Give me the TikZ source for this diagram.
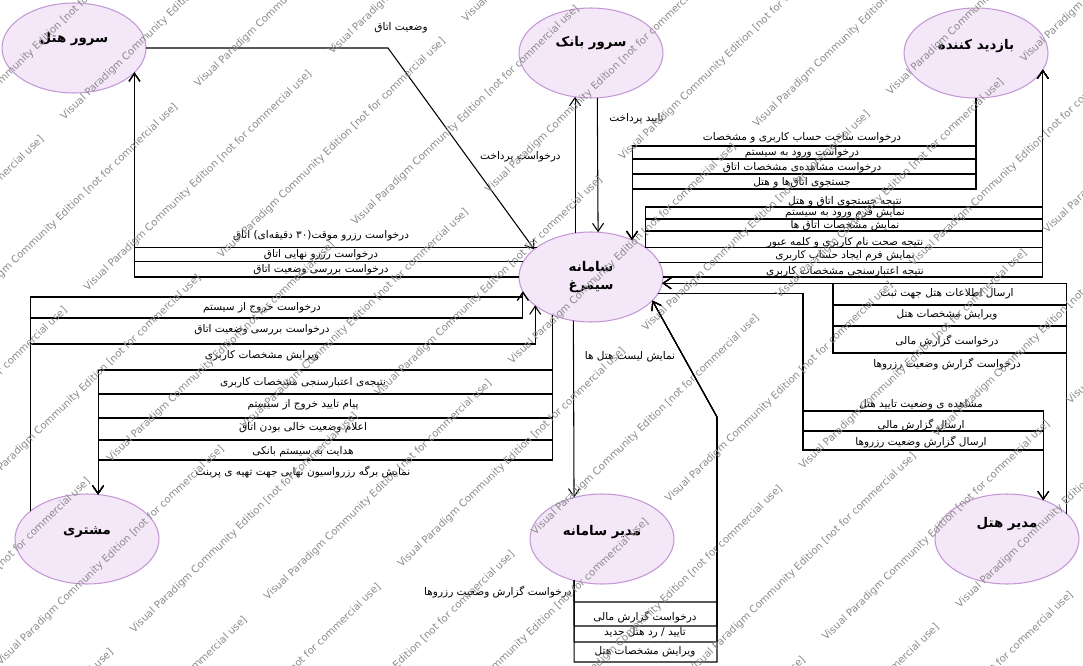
\documentclass[tikz,border=0pt]{standalone}
\usepackage{fontspec}
\setmainfont{DejaVu Sans}
\newfontfamily\persianfont[Script=Arabic]{DejaVu Sans}
\TeXXeTstate=1
\usetikzlibrary{shapes.geometric,arrows.meta}
\definecolor{actorfill}{RGB}{243,231,248}
\definecolor{actorline}{RGB}{196,152,214}
\definecolor{wmgray}{RGB}{140,140,140}
\tikzset{
  actor/.style={ellipse, draw=actorline, fill=actorfill, line width=0.6pt,
    minimum width=2.88cm, minimum height=1.8cm, inner sep=0pt, outer sep=0pt},
  actorname/.style={font=\persianfont\bfseries\fontsize{7.6}{9}\selectfont, inner sep=0pt},
  flow/.style={line width=0.6pt, -{Straight Barb[length=1.6mm,width=2.2mm]}},
  flowlabel/.style={font=\persianfont\fontsize{6}{7}\selectfont, inner sep=0pt},
  watermark/.style={font=\fontsize{5.8}{6}\selectfont, text=wmgray, inner sep=0pt,
    anchor=base west, rotate=44}
}
\begin{document}
\begin{tikzpicture}[x=0.02cm,y=-0.02cm]
  \useasboundingbox (0,0) rectangle (1083,666);
  \fill[white] (0,0) rectangle (1083,666);
  \node[actor,label={[actorname,name=nH,yshift=0.18cm]center:{\beginR سرور هتل\endR}}] (H) at (74,48) {};
  \node[actor,label={[actorname,name=nB,yshift=0.2cm]center:{\beginR سرور بانک\endR}}] (B) at (591,53) {};
  \node[actor,label={[actorname,name=nV,yshift=0.14cm]center:{\beginR بازدید کننده\endR}}] (V) at (976,53) {};
  \node[actor,label={[actorname,name=nS,align=center,font=\persianfont\bfseries\fontsize{7.6}{10.2}\selectfont]center:{\beginR سامانه\endR\\\beginR سیمرغ\endR}}] (S) at (591,277) {};
  \node[actor,label={[actorname,name=nC,yshift=0.14cm]center:{\beginR مشتری\endR}}] (C) at (87,539) {};
  \node[actor,label={[actorname,name=nA,yshift=0.14cm]center:{\beginR مدیر سامانه\endR}}] (A) at (602,539) {};
  \node[actor,label={[actorname,name=nHA,yshift=0.3cm]center:{\beginR مدیر هتل\endR}}] (HA) at (1007,539) {};
  \begin{scope}[flow]
    \draw (H.east) -- (388,48) -- (S.154);
    \draw (S.151) -| (H.338.5);
    \draw (S.167.5) -| (H.338.5);
    \draw (S.west) -| (H.338.5);
    \draw (S.110) -- (B.250);
    \draw (B.278.9) -- (S.81.1);
    \foreach \y in {146,159,174,189}
      \draw (V.south) |- (S.42 |- 0,\y) -- (S.42);
    \foreach \y in {207,219,231}
      \draw (S.28) |- (V.346.2 |- 0,\y) -- (V.346.2);
    \draw (S.28) -| (V.346.2);
    \draw (S.12.5) -| (V.346.2);
    \draw (S.east) -| (V.346.2);
    \draw (HA.23.6) |- (S.355.2);
    \foreach \y in {305,326,353}
      \draw (HA.23.6) |- (833,\y) |- (S.355.2);
    \foreach \y in {411,431,450}
      \draw (S.346.6) -| (803,\y) -| (HA.47.3);
    \draw (S.248.75) -- (A.124);
    \foreach \y in {602,626,642,662}
      \draw (A.236) |- (717,\y) -- (717,417) -- (S.339.7);
    \draw (C.154.25) |- (S.192.3 |- 0,297) -- (S.192.3);
    \draw (C.154.25) |- (S.192.3 |- 0,318) -- (S.192.3);
    \draw (C.154.25) |- (S.207.8 |- 0,344) -- (S.207.8);
    \foreach \y in {370,394,418,440,460}
      \draw (S.225.15) |- (C.76.1 |- 0,\y) -- (C.76.1);
  \end{scope}
  \node[flowlabel,anchor=east] (lroom) at (428,28) {\beginR وضعیت اتاق\endR};
  \node[flowlabel] (ltemp) at (321,236) {\beginR درخواست رزرو موقت(۳۰ دقیقه^^^^200cای) اتاق\endR};
  \node[flowlabel] (lfinal) at (321,255) {\beginR درخواست رزرو نهایی اتاق\endR};
  \node[flowlabel] (lcheck) at (321,270) {\beginR درخواست بررسی وضعیت اتاق\endR};
  \node[flowlabel,anchor=east] (lpayreq) at (561,157) {\beginR درخواست پرداخت\endR};
  \node[flowlabel,anchor=west] (lpayok) at (609,119) {\beginR تایید پرداخت\endR};
  \node[flowlabel] (lsignup) at (802,138) {\beginR درخواست ساخت حساب کاربری و مشخصات\endR};
  \node[flowlabel] (llogin) at (802,153) {\beginR درخواست ورود به سیستم\endR};
  \node[flowlabel] (lroomview) at (802,168) {\beginR درخواست مشاهده^^^^200cی مشخصات اتاق\endR};
  \node[flowlabel] (lsearch) at (802,183) {\beginR جستجوی اتاق^^^^200cها و هتل\endR};
  \node[flowlabel] (lsearchres) at (845,202) {\beginR نتیجه جستجوی اتاق و هتل\endR};
  \node[flowlabel] (lloginform) at (845,213) {\beginR نمایش فرم ورود به سیستم\endR};
  \node[flowlabel] (lroomshow) at (845,226) {\beginR نمایش مشخصات اتاق ها\endR};
  \node[flowlabel] (lpass) at (845,243) {\beginR نتیجه صحت نام کاربری و کلمه عبور\endR};
  \node[flowlabel] (lsignform) at (845,256) {\beginR نمایش فرم ایجاد حساب کاربری\endR};
  \node[flowlabel] (lvalid) at (845,272) {\beginR نتیجه اعتبارسنجی مشخصات کاربری\endR};
  \node[flowlabel] (llogout) at (262,308) {\beginR درخواست خروج از سیستم\endR};
  \node[flowlabel] (lccheck) at (262,330) {\beginR درخواست بررسی وضعیت اتاق\endR};
  \node[flowlabel] (lcedit) at (262,356) {\beginR ویرایش مشخصات کاربری\endR};
  \node[flowlabel] (lcvalid) at (303,383) {\beginR نتیجه^^^^200cی اعتبارسنجی مشخصات کاربری\endR};
  \node[flowlabel] (lcbye) at (303,405) {\beginR پیام تایید خروج از سیستم\endR};
  \node[flowlabel] (lcfree) at (303,428) {\beginR اعلام وضعیت خالی بودن اتاق\endR};
  \node[flowlabel] (lcbank) at (303,452) {\beginR هدایت به سیستم بانکی\endR};
  \node[flowlabel] (lcprint) at (303,472) {\beginR نمایش برگه رزرواسیون نهایی جهت تهیه ی پرینت\endR};
  \node[flowlabel] (lhotels) at (630,357) {\beginR نمایش لیست هتل ها\endR};
  \node[flowlabel] (lhreg) at (947,294) {\beginR ارسال اطلاعات هتل جهت ثبت\endR};
  \node[flowlabel] (lhedit) at (947,315) {\beginR ویرایش مشخصات هتل\endR};
  \node[flowlabel] (lhfin) at (947,341) {\beginR درخواست گزارش مالی\endR};
  \node[flowlabel] (lhres) at (947,364) {\beginR درخواست گزارش وضعیت رزروها\endR};
  \node[flowlabel] (lhok) at (921,405) {\beginR مشاهده ی وضعیت تایید هتل\endR};
  \node[flowlabel] (lhfinrep) at (921,425) {\beginR ارسال گزارش مالی\endR};
  \node[flowlabel] (lhresrep) at (921,442) {\beginR ارسال گزارش وضعیت رزروها\endR};
  \node[flowlabel,anchor=east] (lares) at (572,592) {\beginR درخواست گزارش وضعیت رزروها\endR};
  \node[flowlabel] (lafin) at (645,617) {\beginR درخواست گزارش مالی\endR};
  \node[flowlabel] (laok) at (645,633) {\beginR تایید / رد هتل جدید\endR};
  \node[flowlabel] (laedit) at (645,652) {\beginR ویرایش مشخصات هتل\endR};
  \begin{scope}
    \clip (0,0) rectangle (1083,666);
    \foreach \i in {-7,...,10}
      \foreach \j in {-3,...,3} {
        \pgfmathsetmacro\wx{\i*100+(\j*340+\i*47)*0.719}
        \pgfmathsetmacro\wy{666-(\j*340+\i*47)*0.695}
        \pgfmathtruncatemacro\wok{(\wx>-235)*(\wx<1083)*(\wy>0)*(\wy<890)}
        \ifnum\wok=1
          \node[watermark] (wm\i\j) at (\wx,\wy)
            {Visual Paradigm Community Edition [not for commercial use]};
        \fi
      }
  \end{scope}
\end{tikzpicture}
\end{document}
